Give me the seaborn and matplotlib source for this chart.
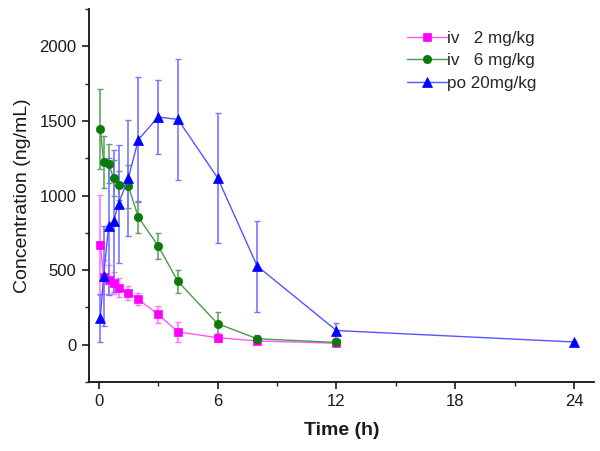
import numpy as np
import pandas as pd
import matplotlib
matplotlib.use("Agg")
import matplotlib.pyplot as plt
from matplotlib.ticker import MultipleLocator
from matplotlib.lines import Line2D
import seaborn as sns

# ---- data ----
time_iv = [0.083, 0.25, 0.5, 0.75, 1, 1.5, 2, 3, 4, 6, 8, 12]
iv2_mean = [668, 452, 437, 412, 383, 346, 304, 203, 86, 47, 25, 10]
iv2_sd = [335, 115, 100, 75, 62, 45, 40, 55, 65, 30, 15, 8]
iv6_mean = [1445, 1224, 1213, 1117, 1068, 1061, 855, 663, 424, 141, 40, 15]
iv6_sd = [270, 172, 130, 118, 95, 145, 105, 88, 80, 78, 25, 10]
time_po = [0.083, 0.25, 0.5, 0.75, 1, 1.5, 2, 3, 4, 6, 8, 12, 24]
po20_mean = [181, 462, 793, 828, 945, 1119, 1374, 1526, 1510, 1119, 527, 95, 18]
po20_sd = [160, 335, 460, 475, 395, 388, 420, 248, 405, 437, 305, 50, 6]
labels = ["iv   2 mg/kg", "iv   6 mg/kg", "po 20mg/kg"]
x_ticks = [0, 6, 12, 18, 24]
y_ticks = [0, 500, 1000, 1500, 2000]

sns.set_theme(style="ticks")
plt.rcParams['font.family'] = ['Liberation Sans', 'DejaVu Sans']

df = pd.concat([
    pd.DataFrame({"Time": time_iv, "Conc": iv2_mean, "sd": iv2_sd, "Group": labels[0]}),
    pd.DataFrame({"Time": time_iv, "Conc": iv6_mean, "sd": iv6_sd, "Group": labels[1]}),
    pd.DataFrame({"Time": time_po, "Conc": po20_mean, "sd": po20_sd, "Group": labels[2]}),
], ignore_index=True)

marker_colors = {labels[0]: "#ff00ff", labels[1]: "#0a7a0a", labels[2]: "#0000ff"}
line_colors = {labels[0]: "#ff55ff", labels[1]: "#4a9a4a", labels[2]: "#5555ff"}
err_colors = {labels[0]: "#ff77ff", labels[1]: "#5fa55f", labels[2]: "#7777ff"}
markers = {labels[0]: "s", labels[1]: "o", labels[2]: "^"}
msizes = {labels[0]: 5.5, labels[1]: 6.0, labels[2]: 7.0}

fig = plt.figure(figsize=(6.0, 4.51), dpi=100)
ax = fig.add_axes([0.148, 0.153, 0.842, 0.827])

for g in labels:
    sub = df[df["Group"] == g]
    ax.errorbar(sub["Time"], sub["Conc"], yerr=sub["sd"], fmt="none",
                ecolor=err_colors[g], elinewidth=1.2, capsize=2.5, capthick=1.0, zorder=2)

sns.lineplot(data=df, x="Time", y="Conc", hue="Group", style="Group",
             palette=line_colors, markers=markers, dashes=False,
             markersize=6, linewidth=1.0, ax=ax, legend=False, zorder=3,
             estimator=None, sort=True)

for line, g in zip(ax.get_lines()[-3:], labels):
    line.set_markerfacecolor(marker_colors[g])
    line.set_markeredgecolor(marker_colors[g])
    line.set_markersize(msizes[g])
    line.set_markeredgewidth(0.5)

handles = [Line2D([], [], color=line_colors[g], marker=markers[g], markersize=msizes[g],
                  markerfacecolor=marker_colors[g], markeredgecolor=marker_colors[g],
                  markeredgewidth=0.5, linewidth=1.0) for g in labels]
ax.legend(handles, labels, loc="upper right", bbox_to_anchor=(0.907, 0.968),
          frameon=False, fontsize=12.3, handlelength=2.3, handletextpad=0.05,
          labelspacing=0.42, borderaxespad=0.2)

ax.set_xlim(-0.5, 25)
ax.set_ylim(-250, 2250)
ax.set_xticks(x_ticks)
ax.set_yticks(y_ticks)
ax.xaxis.set_minor_locator(MultipleLocator(3))
ax.yaxis.set_minor_locator(MultipleLocator(250))
ax.tick_params(axis="both", which="major", direction="out", length=5, width=1.2,
               labelsize=12, colors="#1a1a1a", pad=4)
ax.tick_params(axis="both", which="minor", direction="out", length=3, width=1.0)
for s in ["left", "bottom"]:
    ax.spines[s].set_linewidth(1.3)
    ax.spines[s].set_color("#111111")
sns.despine(ax=ax)
ax.set_xlabel("Time (h)", fontsize=14, fontweight="bold", labelpad=9, color="#1a1a1a")
ax.set_ylabel("Concentration (ng/mL)", fontsize=14, labelpad=6, color="#1a1a1a")

fig.savefig("out.png", dpi=100)
